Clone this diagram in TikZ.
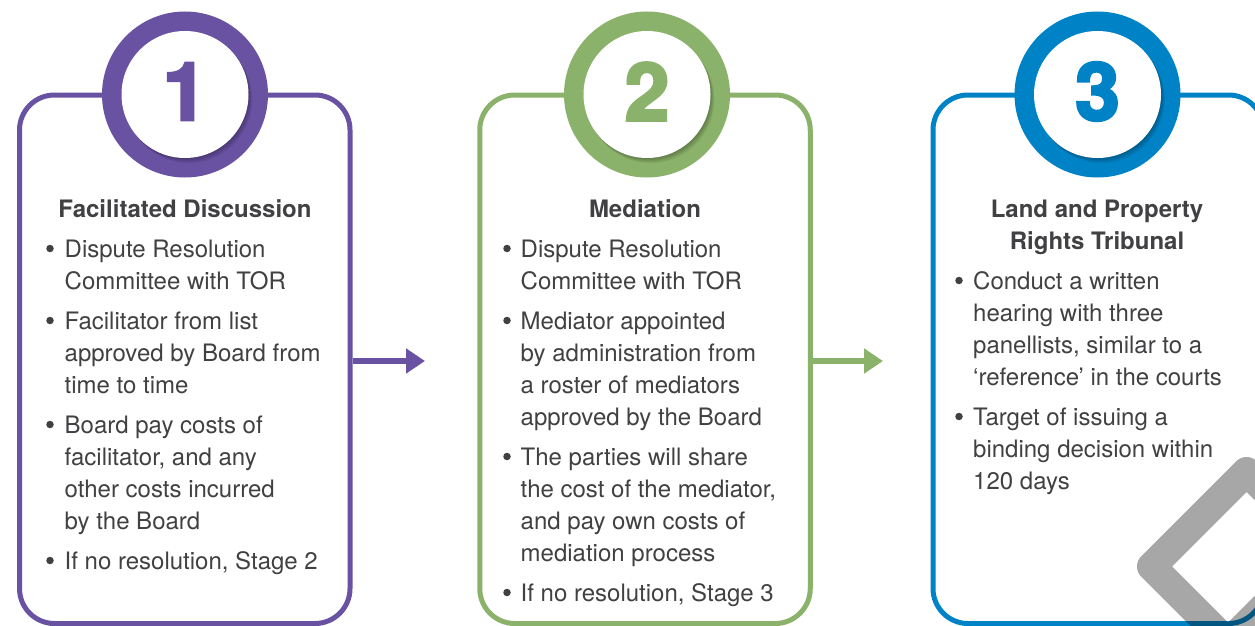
\documentclass[tikz,border=0pt]{standalone}
\usepackage{fontspec}
\setmainfont{TeX Gyre Heros}
\usetikzlibrary{arrows.meta,calc}
\definecolor{cpurple}{HTML}{6A52A3}
\definecolor{cgreen}{HTML}{8BB26A}
\definecolor{cblue}{HTML}{0083C6}
\definecolor{cgray}{HTML}{A7A7A7}
\definecolor{ctext}{HTML}{414042}
\tikzset{
  stagebox/.style={draw=#1, line width=5pt, rounded corners=35pt, minimum width=330.5pt, minimum height=528.5pt, inner sep=0pt},
  ring/.style={circle, fill=#1, minimum size=166pt, inner sep=0pt},
  hole/.style={circle, fill=white, minimum size=127pt, inner sep=0pt},
  numtxt/.style={text=#1, font=\fontsize{80}{80}\selectfont\bfseries\addfontfeatures{FakeBold=3.5}, inner sep=0pt},
  ttl/.style={text=ctext, font=\fontsize{24}{32}\selectfont\bfseries, inner sep=0pt, anchor=base},
  itm/.style={text=ctext, font=\fontsize{24}{32}\selectfont, inner sep=0pt, anchor=base west},
  dot/.style={circle, fill=ctext, minimum size=7.5pt, inner sep=0pt},
  flow/.style={draw=#1, line width=5.5pt, -{Triangle[length=19pt,width=24pt]}},
}
\newcommand{\lns}[1]{\parbox[t]{300pt}{\raggedright #1}}
\begin{document}
\begin{tikzpicture}[x=1pt,y=-1pt]
\useasboundingbox (0,0) rectangle (1255,626);
\clip (0,0) rectangle (1255,626);
\fill[white] (0,0) rectangle (1255,626);
% boxes
\node[stagebox=cpurple] (box1) at (184.75,359.25) {};
\node[stagebox=cgreen] (box2) at (645,359.25) {};
\node[stagebox=cblue] (box3) at (1098.25,359.25) {};
% arrows
\coordinate (t1) at (425,361);
\coordinate (t2) at (883,361);
\draw[flow=cpurple] (box1.east |- t1) -- (t1);
\draw[flow=cgreen] (box2.east |- t2) -- (t2);
% rings
\foreach \nm/\cx/\col/\num in {c1/185/cpurple/1, c2/647/cgreen/2, c3/1097.5/cblue/3}{
  \node[ring=\col] (\nm) at (\cx,94.5) {};
  \foreach \k in {1,...,7}{
    \fill[black, opacity=0.045] ($(\nm)+(\k*0.55,\k*0.75)$) circle[radius=63.5pt];
  }
  \node[hole] (\nm h) at (\nm) {};
  \node[numtxt=\col] (\nm n) at (\cx,91.5) {\num};
}
% box 1 text
\node[ttl] (t1a) at (185,217) {Facilitated Discussion};
\node[itm] (a1) at (64.5,257) {\lns{Dispute Resolution\\Committee with TOR}};
\node[itm] (a2) at (64.5,329) {\lns{Facilitator from list\\approved by Board from\\time to time}};
\node[itm] (a3) at (64.5,433) {\lns{Board pay costs of\\facilitator, and any\\other costs incurred\\by the Board}};
\node[itm] (a4) at (64.5,569) {\lns{If no resolution, Stage 2}};
\foreach \y [count=\i] in {257,329,433,569}{ \node[dot] (da\i) at (50,\y-8.5) {}; }
% box 2 text
\node[ttl] (t2a) at (645,217) {Mediation};
\node[itm] (b1) at (520.5,257) {\lns{Dispute Resolution\\Committee with TOR}};
\node[itm] (b2) at (520.5,329) {\lns{Mediator appointed\\by administration from\\a roster of mediators\\approved by the Board}};
\node[itm] (b3) at (520.5,465) {\lns{The parties will share\\the cost of the mediator,\\and pay own costs of\\mediation process}};
\node[itm] (b4) at (520.5,601) {\lns{If no resolution, Stage 3}};
\foreach \y [count=\i] in {257,329,465,601}{ \node[dot] (db\i) at (507,\y-8.5) {}; }
% box 3 text
\node[ttl] (t3a) at (1097,217) {Land and Property};
\node[ttl] (t3b) at (1097,249) {Rights Tribunal};
\node[itm] (c1t) at (973,289) {\lns{Conduct a written\\hearing with three\\panellists, similar to a\\‘reference’ in the courts}};
\node[itm] (c2t) at (973,425) {\lns{Target of issuing a\\binding decision within\\120 days}};
\foreach \y [count=\i] in {289,425}{ \node[dot] (dc\i) at (959,\y-8.5) {}; }
% gray shape
\draw[cgray, line width=29pt, line join=round, blend mode=multiply]
  (1151.5,566.5) -- (1246.5,471.5) -- (1323,548) -- (1228,643) -- cycle;
\end{tikzpicture}
\end{document}
